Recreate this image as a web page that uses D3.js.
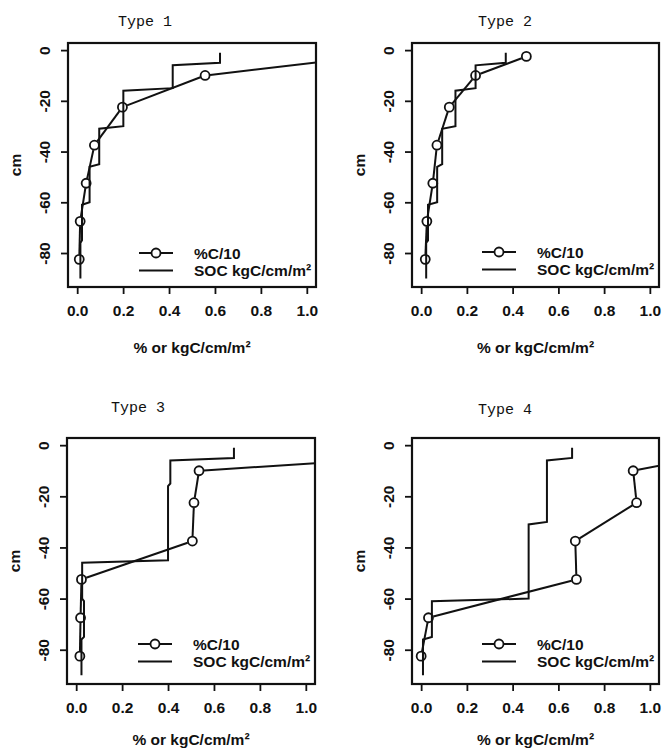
<!DOCTYPE html>
<html>
<head>
<meta charset="utf-8">
<script src="https://cdn.jsdelivr.net/npm/d3@7"></script>
<style>
  html, body { margin: 0; padding: 0; background: #fff; }
  svg { display: block; }
  .tick text, .lab { font-family: "Liberation Sans", Arial, sans-serif; font-weight: bold; }
</style>
</head>
<body>
<svg id="chart" width="665" height="749"></svg>
<script>
// ---- data ----
const panelTitles = ["Type 1", "Type 2", "Type 3", "Type 4"];
const pctDepths = [2.5, 10, 22.5, 37.5, 52.5, 67.5, 82.5];      // cm (plotted negative)
const layerTop = [1, 6, 16, 31, 46, 61, 76];
const layerBottom = [5, 15, 30, 45, 60, 75, 90];

const pctType1 = [1.27, 0.557, 0.197, 0.075, 0.039, 0.013, 0.009];
const socType1 = [0.622, 0.416, 0.201, 0.096, 0.054, 0.021, 0.014];
const pctType2 = [0.46, 0.238, 0.123, 0.069, 0.051, 0.025, 0.018];
const socType2 = [0.37, 0.238, 0.15, 0.092, 0.07, 0.03, 0.022];
const pctType3 = [1.84, 0.535, 0.513, 0.506, 0.023, 0.019, 0.016];
const socType3 = [0.687, 0.41, 0.40, 0.40, 0.026, 0.034, 0.023];
const pctType4 = [1.37, 0.927, 0.942, 0.674, 0.679, 0.032, 0.0];
const socType4 = [0.66, 0.55, 0.55, 0.47, 0.47, 0.047, 0.008];

const xTicks = [0, 0.2, 0.4, 0.6, 0.8, 1.0];
const xTickLabels = ["0.0", "0.2", "0.4", "0.6", "0.8", "1.0"];
const yTicks = [0, -20, -40, -60, -80];
const yTickLabels = ["0", "-20", "-40", "-60", "-80"];
const xDomain = [-0.04, 1.04];
const yDomain = [2.8, -93.4];
const legendLabels = ["%C/10", "SOC kgC/cm/m\u00B2"];
const xLabel = "% or kgC/cm/m\u00B2";
const yLabel = "cm";

const pctSeries = [pctType1, pctType2, pctType3, pctType4];
const socSeries = [socType1, socType2, socType3, socType4];

// ---- layout ----
const panels = [
  { x0: 68,  x1: 316, y0: 43,  y1: 287, tx: 145, ty: 22,  leg: 34, xl: 60 },
  { x0: 412, x1: 659, y0: 43,  y1: 287, tx: 505, ty: 22,  leg: 35, xl: 60 },
  { x0: 67,  x1: 315, y0: 438, y1: 684, tx: 138, ty: 408, leg: 40, xl: 55 },
  { x0: 412, x1: 659, y0: 438, y1: 684, tx: 505, ty: 410, leg: 40, xl: 55 }
];
const R = 4.5;
const ink = "#111";
const FS = 15.5;

const svg = d3.select("#chart");

panels.forEach((p, i) => {
  const x = d3.scaleLinear().domain(xDomain).range([p.x0, p.x1]);
  const y = d3.scaleLinear().domain(yDomain).range([p.y0, p.y1]);
  const g = svg.append("g");

  const clipId = "clip" + i;
  svg.append("clipPath").attr("id", clipId).append("rect")
    .attr("x", p.x0).attr("y", p.y0).attr("width", p.x1 - p.x0).attr("height", p.y1 - p.y0);

  // axes
  const xa = g.append("g").attr("transform", `translate(0,${p.y1})`)
    .call(d3.axisBottom(x).tickValues(xTicks).tickSize(7).tickPadding(11)
      .tickFormat((d, k) => xTickLabels[k]));
  xa.select(".domain").attr("stroke", ink).attr("stroke-width", 1.8)
    .attr("d", `M${x(xTicks[0])},0H${x(xTicks[xTicks.length - 1])}`);
  xa.selectAll(".tick line").attr("stroke", ink).attr("stroke-width", 1.8);
  xa.selectAll(".tick text").attr("font-size", FS).attr("fill", ink);

  const ya = g.append("g").attr("transform", `translate(${p.x0},0)`)
    .call(d3.axisLeft(y).tickValues(yTicks).tickSize(7)
      .tickFormat((d, k) => yTickLabels[k]));
  ya.select(".domain").attr("stroke", ink).attr("stroke-width", 1.8)
    .attr("d", `M0,${y(yTicks[0])}V${y(yTicks[yTicks.length - 1])}`);
  ya.selectAll(".tick line").attr("stroke", ink).attr("stroke-width", 1.8);
  ya.selectAll(".tick text").attr("font-size", FS).attr("fill", ink)
    .attr("x", null).attr("dy", null)
    .attr("text-anchor", "middle").attr("dominant-baseline", "central")
    .attr("transform", "translate(-24,0) rotate(-90)");

  // SOC step line
  const socPts = [];
  socSeries[i].forEach((v, k) => {
    socPts.push([v, -layerTop[k]]);
    socPts.push([v, -layerBottom[k]]);
  });
  g.append("path").attr("clip-path", `url(#${clipId})`)
    .attr("d", d3.line().x(d => x(d[0])).y(d => y(d[1]))(socPts))
    .attr("fill", "none").attr("stroke", ink).attr("stroke-width", 2);

  // %C/10 line with points (type "b": gaps at points)
  const pts = pctSeries[i].map((v, k) => [x(v), y(-pctDepths[k])]);
  const segs = [];
  for (let k = 0; k < pts.length - 1; k++) {
    const [ax, ay] = pts[k], [bx, by] = pts[k + 1];
    const dx = bx - ax, dy = by - ay, d = Math.hypot(dx, dy);
    if (d > 2 * R + 1) {
      const ux = dx / d, uy = dy / d;
      segs.push([[ax + ux * (R + 0.5), ay + uy * (R + 0.5)], [bx - ux * (R + 0.5), by - uy * (R + 0.5)]]);
    }
  }
  g.append("g").attr("clip-path", `url(#${clipId})`).selectAll("line").data(segs).join("line")
    .attr("x1", d => d[0][0]).attr("y1", d => d[0][1])
    .attr("x2", d => d[1][0]).attr("y2", d => d[1][1])
    .attr("stroke", ink).attr("stroke-width", 2);
  g.append("g").attr("clip-path", `url(#${clipId})`).selectAll("circle").data(pts).join("circle")
    .attr("cx", d => d[0]).attr("cy", d => d[1]).attr("r", R)
    .attr("fill", "none").attr("stroke", ink).attr("stroke-width", 1.8);

  // box
  g.append("rect").attr("x", p.x0).attr("y", p.y0)
    .attr("width", p.x1 - p.x0).attr("height", p.y1 - p.y0)
    .attr("fill", "none").attr("stroke", ink).attr("stroke-width", 2.2);

  // legend
  const ly1 = p.y1 - p.leg, ly2 = ly1 + 17.5;
  const lxText = p.x1 - 122, lxL0 = p.x1 - 177, lxL1 = p.x1 - 143, lxC = p.x1 - 160;
  g.append("line").attr("x1", lxL0).attr("x2", lxC - R - 0.5).attr("y1", ly1).attr("y2", ly1)
    .attr("stroke", ink).attr("stroke-width", 2);
  g.append("line").attr("x1", lxC + R + 0.5).attr("x2", lxL1).attr("y1", ly1).attr("y2", ly1)
    .attr("stroke", ink).attr("stroke-width", 2);
  g.append("circle").attr("cx", lxC).attr("cy", ly1).attr("r", R)
    .attr("fill", "none").attr("stroke", ink).attr("stroke-width", 1.8);
  g.append("line").attr("x1", lxL0).attr("x2", lxL1).attr("y1", ly2).attr("y2", ly2)
    .attr("stroke", ink).attr("stroke-width", 2);
  [ly1, ly2].forEach((ly, k) => {
    g.append("text").attr("class", "lab").attr("x", lxText).attr("y", ly)
      .attr("dominant-baseline", "central").attr("font-size", FS).attr("fill", ink)
      .text(legendLabels[k]);
  });

  // labels
  g.append("text").attr("x", p.tx).attr("y", p.ty)
    .attr("text-anchor", "middle").attr("dominant-baseline", "central")
    .attr("font-family", "'Liberation Mono', 'Courier New', monospace")
    .attr("font-size", 15).attr("fill", ink).text(panelTitles[i]);
  g.append("text").attr("class", "lab").attr("x", (p.x0 + p.x1) / 2).attr("y", p.y1 + p.xl)
    .attr("text-anchor", "middle").attr("dominant-baseline", "central")
    .attr("font-size", FS).attr("fill", ink).text(xLabel);
  g.append("text").attr("class", "lab")
    .attr("transform", `translate(${p.x0 - 53},${(p.y0 + p.y1) / 2}) rotate(-90)`)
    .attr("text-anchor", "middle").attr("dominant-baseline", "central")
    .attr("font-size", FS).attr("fill", ink).text(yLabel);
});
</script>
</body>
</html>
